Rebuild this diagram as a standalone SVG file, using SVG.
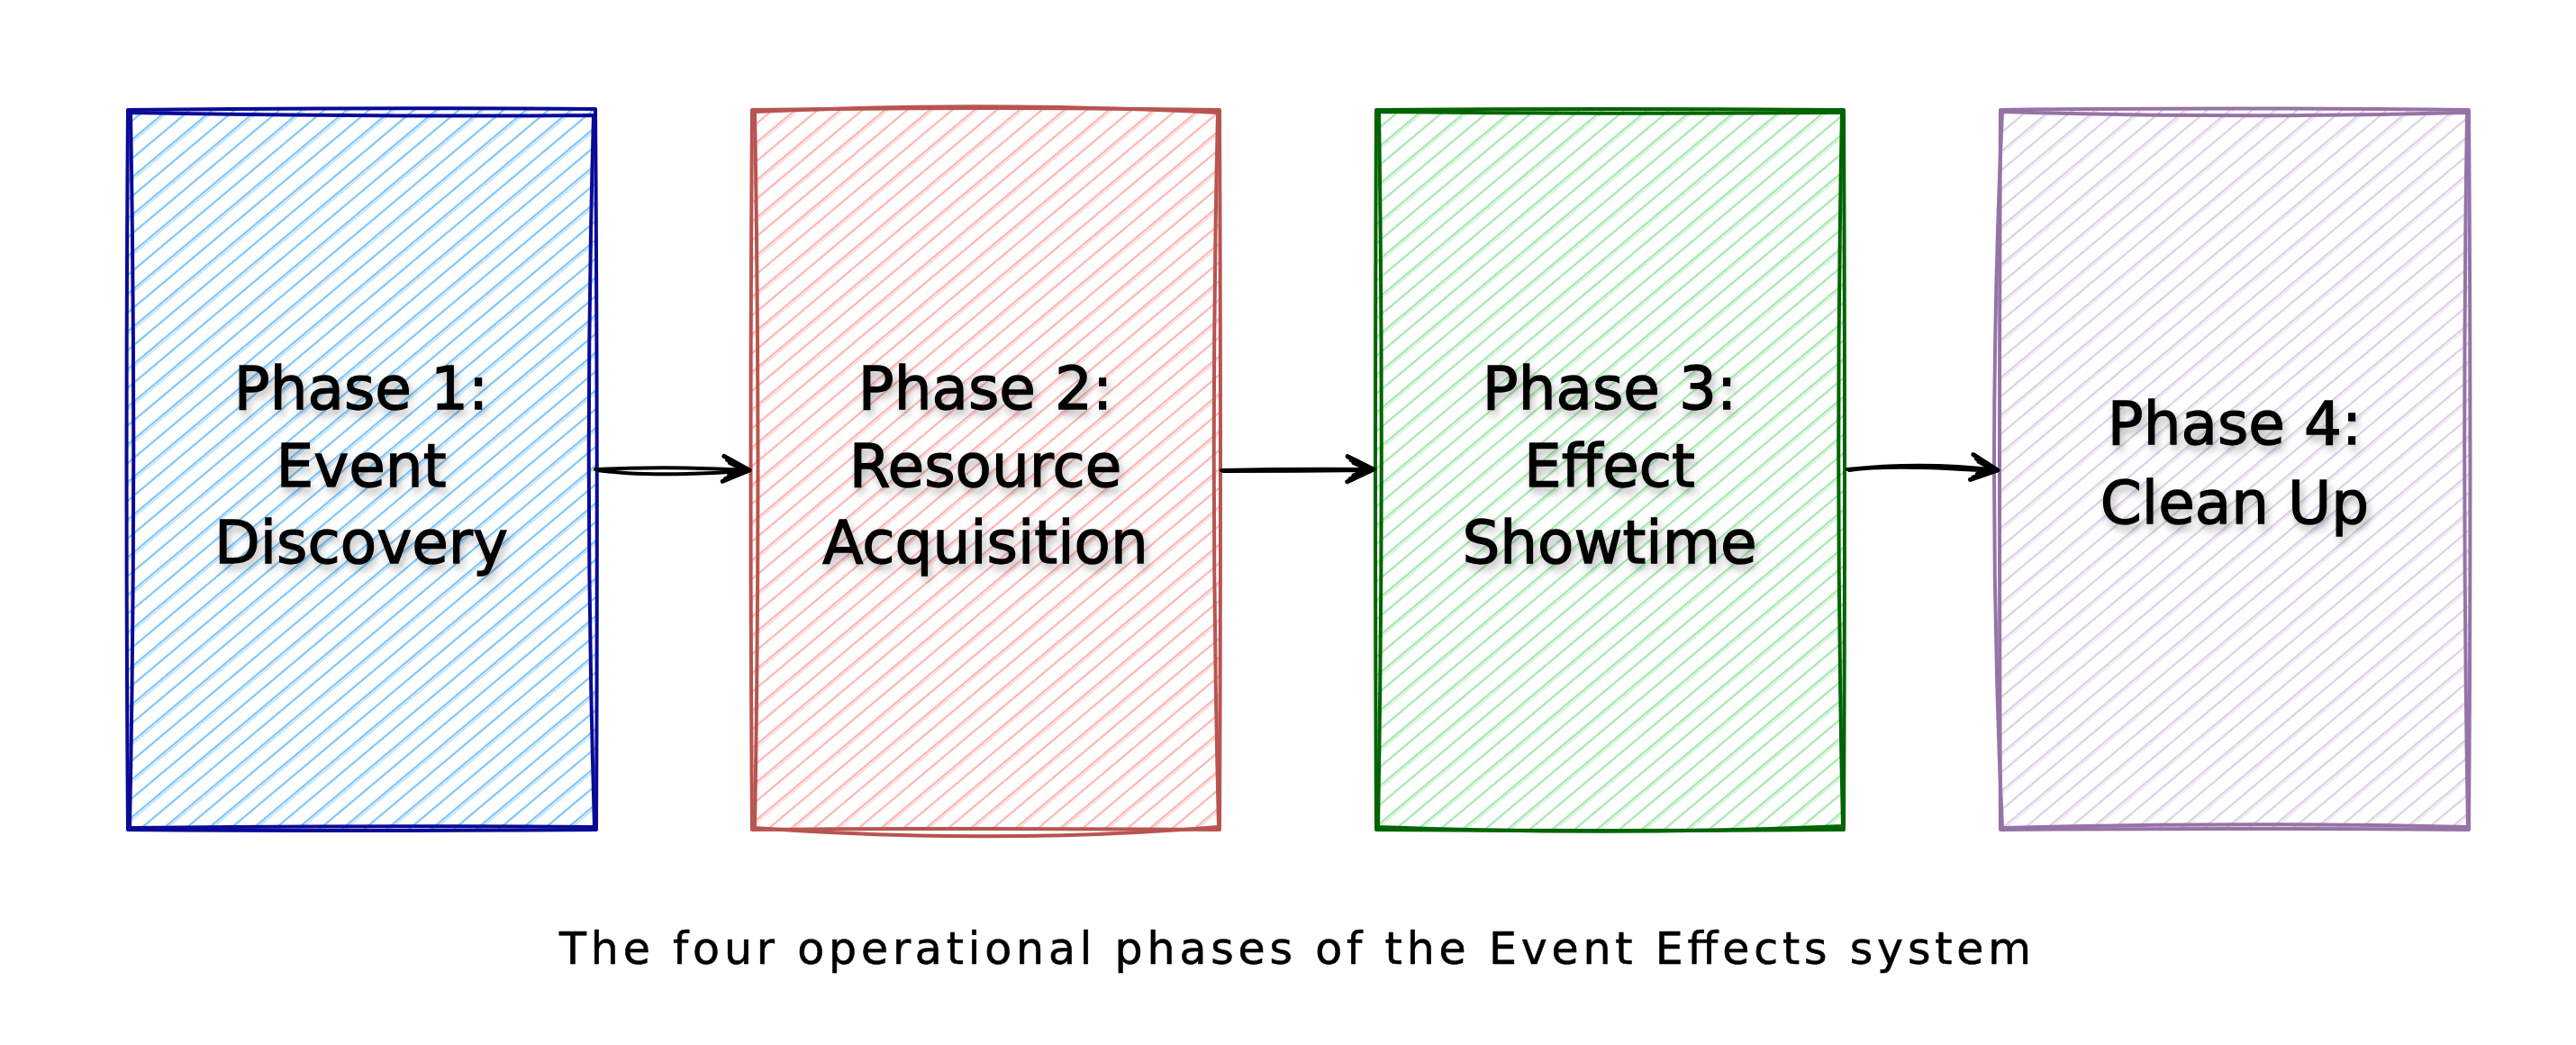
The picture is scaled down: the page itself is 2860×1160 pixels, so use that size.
<svg xmlns="http://www.w3.org/2000/svg" width="2860" height="1160" viewBox="0 0 2860 1160">
  <style>
    .lbl { font-family: "DejaVu Sans", "Liberation Sans", sans-serif; font-size: 66px; fill: #000; stroke: #000; stroke-width: 1.3; text-anchor: middle; filter: url(#shadow); }
    .cap { font-family: "DejaVu Sans", "Liberation Sans", sans-serif; font-size: 49px; fill: #000; stroke: #000; stroke-width: 0.6; text-anchor: middle; }
    .edge { fill: none; stroke-width: 4; stroke-linecap: round; stroke-linejoin: round; }
    .conn { fill: none; stroke: #000; stroke-width: 4; stroke-linecap: round; stroke-linejoin: round; }
  </style>
  <defs>
    <filter id="shadow" x="-20%" y="-30%" width="140%" height="170%">
      <feDropShadow dx="3" dy="6" stdDeviation="5" flood-color="#000" flood-opacity="0.28"/>
    </filter>
    <pattern id="hBlue" patternUnits="userSpaceOnUse" width="32" height="32" patternTransform="rotate(-40)">
      <line x1="0" y1="5" x2="32" y2="5" stroke="#7cc6fb" stroke-width="2.2"/>
      <line x1="0" y1="21" x2="32" y2="21" stroke="#7cc6fb" stroke-width="2.2"/>
      <line x1="0" y1="23.5" x2="32" y2="23.5" stroke="#7cc6fb" stroke-width="1.3" opacity="0.6"/>
    </pattern>
    <pattern id="hRed" patternUnits="userSpaceOnUse" width="32" height="32" patternTransform="rotate(-40)">
      <line x1="0" y1="5" x2="32" y2="5" stroke="#ffb3b3" stroke-width="2.2"/>
      <line x1="0" y1="21" x2="32" y2="21" stroke="#ffb3b3" stroke-width="2.2"/>
      <line x1="0" y1="23.5" x2="32" y2="23.5" stroke="#ffb3b3" stroke-width="1.3" opacity="0.6"/>
    </pattern>
    <pattern id="hGreen" patternUnits="userSpaceOnUse" width="32" height="32" patternTransform="rotate(-40)">
      <line x1="0" y1="5" x2="32" y2="5" stroke="#a3e8ad" stroke-width="2.2"/>
      <line x1="0" y1="21" x2="32" y2="21" stroke="#a3e8ad" stroke-width="2.2"/>
      <line x1="0" y1="23.5" x2="32" y2="23.5" stroke="#a3e8ad" stroke-width="1.3" opacity="0.6"/>
    </pattern>
    <pattern id="hPurple" patternUnits="userSpaceOnUse" width="32" height="32" patternTransform="rotate(-40)">
      <line x1="0" y1="5" x2="32" y2="5" stroke="#ddcfe6" stroke-width="2.2"/>
      <line x1="0" y1="21" x2="32" y2="21" stroke="#ddcfe6" stroke-width="2.2"/>
      <line x1="0" y1="23.5" x2="32" y2="23.5" stroke="#ddcfe6" stroke-width="1.3" opacity="0.6"/>
    </pattern>
    <marker id="head" markerUnits="userSpaceOnUse" markerWidth="44" markerHeight="44" refX="32" refY="16" orient="auto" overflow="visible">
      <path d="M3,2 L32,16 L3,30 M7,6 L30,16 L6,27 M10,9 L27,16 L10,23" fill="none" stroke="#000" stroke-width="5" stroke-linecap="round" stroke-linejoin="round"/>
    </marker>
  </defs>

  <rect x="0" y="0" width="2860" height="1160" fill="#ffffff"/>

  <g id="phase1">
    <rect x="142" y="122" width="519" height="799" fill="url(#hBlue)"/>
    <path class="edge" stroke="#0a0a96" d="M142,122 Q400,119 661,121 Q664,520 662,921 Q400,923 142,921 Q139,520 142,122"/>
    <path class="edge" stroke="#0a0a96" d="M145,125 Q420,130 659,128 Q648,520 660,918 Q410,916 144,919 Q152,520 145,125"/>
    <text class="lbl" x="401" y="454">Phase 1:</text>
    <text class="lbl" x="401" y="540">Event</text>
    <text class="lbl" x="401" y="625">Discovery</text>
  </g>

  <g id="phase2">
    <rect x="835" y="122" width="519" height="799" fill="url(#hRed)"/>
    <path class="edge" stroke="#b85450" d="M835,122 Q1100,118 1354,122 Q1356,520 1354,921 Q1100,919 835,921 Q832,520 835,122"/>
    <path class="edge" stroke="#b85450" d="M838,124 Q1090,112 1352,125 Q1343,520 1353,918 Q1100,938 838,919 Q845,520 838,124"/>
    <text class="lbl" x="1094" y="454">Phase 2:</text>
    <text class="lbl" x="1094" y="540">Resource</text>
    <text class="lbl" x="1094" y="625">Acquisition</text>
  </g>

  <g id="phase3">
    <rect x="1528" y="122" width="519" height="799" fill="url(#hGreen)"/>
    <path class="edge" stroke="#006400" d="M1528,122 Q1790,120 2047,122 Q2049,520 2047,921 Q1790,923 1528,921 Q1526,520 1528,122"/>
    <path class="edge" stroke="#006400" d="M1531,124 Q1790,127 2045,125 Q2037,520 2046,917 Q1790,928 1530,918 Q1537,520 1531,124"/>
    <text class="lbl" x="1787" y="454">Phase 3:</text>
    <text class="lbl" x="1787" y="540">Effect</text>
    <text class="lbl" x="1787" y="625">Showtime</text>
  </g>

  <g id="phase4">
    <rect x="2221" y="122" width="520" height="799" fill="url(#hPurple)"/>
    <path class="edge" stroke="#9673a6" d="M2221,122 Q2480,119 2741,122 Q2744,520 2741,921 Q2480,919 2221,921 Q2219,520 2221,122"/>
    <path class="edge" stroke="#9673a6" d="M2223,124 Q2480,132 2739,125 Q2733,520 2740,918 Q2480,912 2223,919 Q2205,520 2223,124"/>
    <text class="lbl" x="2481" y="493">Phase 4:</text>
    <text class="lbl" x="2481" y="581">Clean Up</text>
  </g>

  <g id="connectors">
    <path class="conn" d="M661,521 Q745,517 832,522" marker-end="url(#head)"/>
    <path class="conn" d="M663,522 Q720,530 826,523"/>
    <path class="conn" d="M1356,522 Q1440,520 1525,521" marker-end="url(#head)"/>
    <path class="conn" d="M1358,523 Q1440,523 1520,522"/>
    <path class="conn" d="M2051,521 Q2135,512 2218,522" marker-end="url(#head)"/>
    <path class="conn" d="M2053,522 Q2100,515 2212,523"/>
  </g>

  <text class="cap" x="1438" y="1070" textLength="1634" lengthAdjust="spacing">The four operational phases of the Event Effects system</text>
</svg>
